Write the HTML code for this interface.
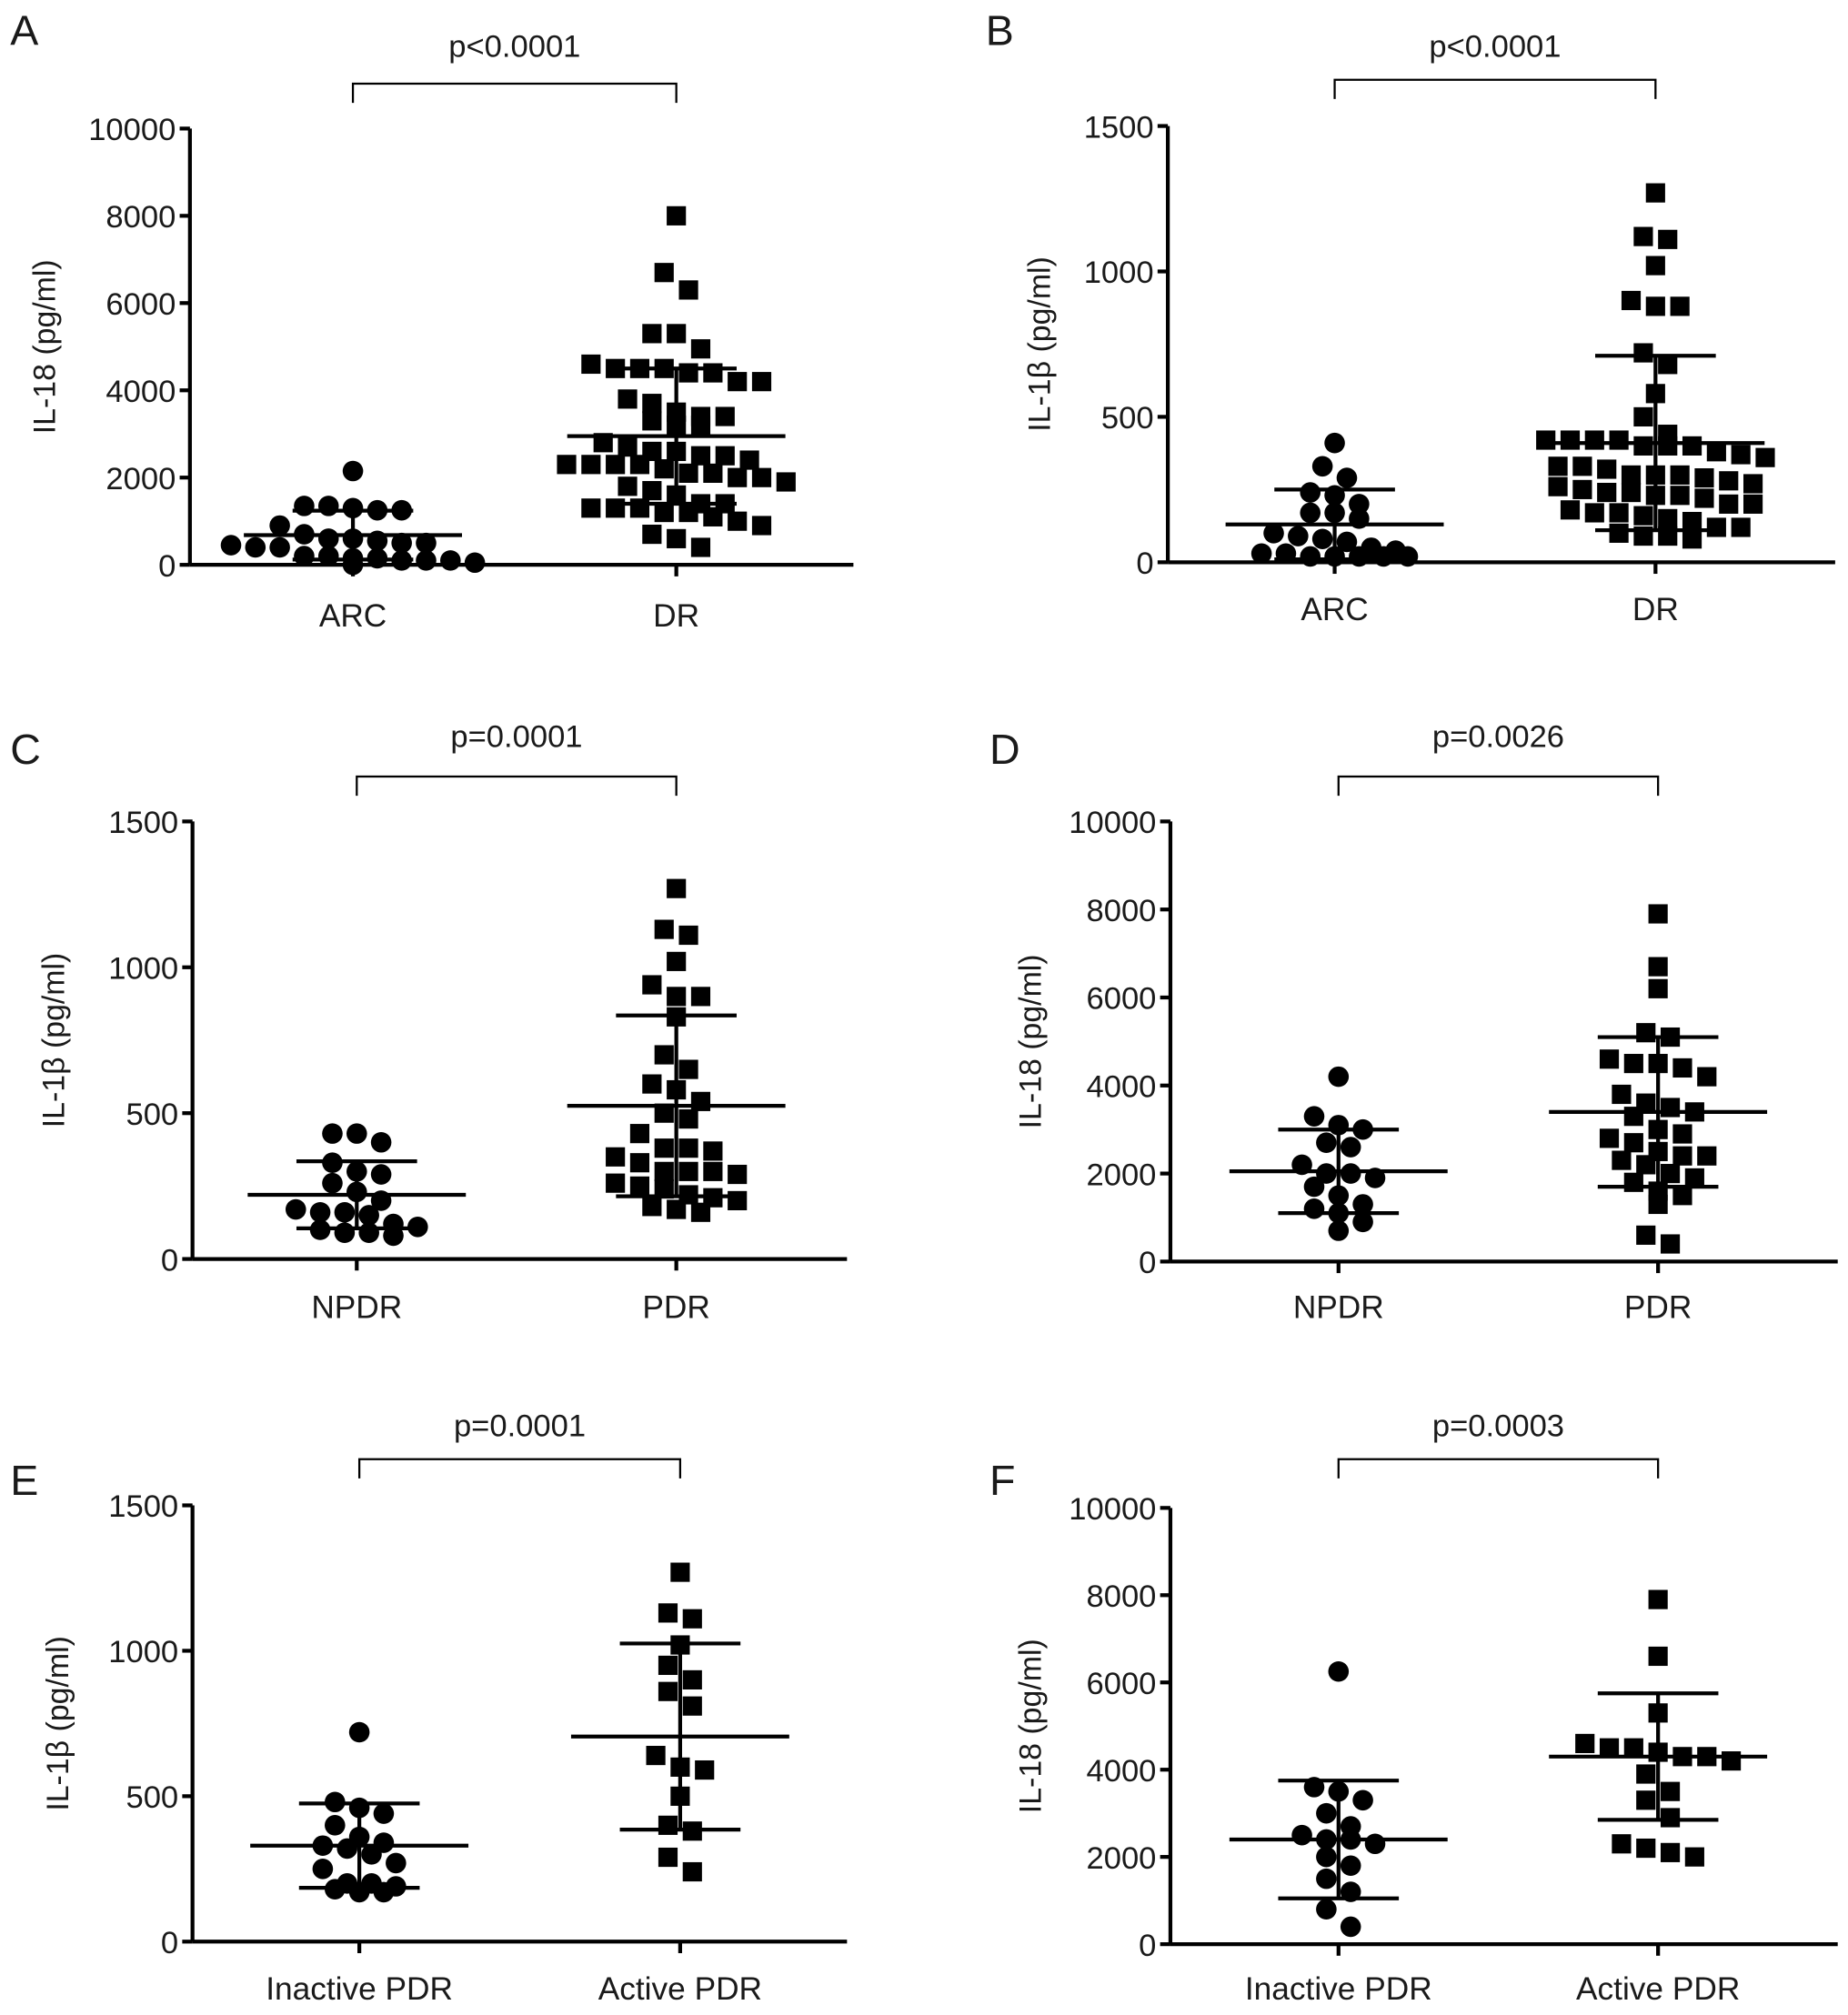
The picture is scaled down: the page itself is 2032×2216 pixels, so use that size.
<!DOCTYPE html>
<html><head><meta charset="utf-8"><style>
html,body{margin:0;padding:0;background:#fff;}
svg{display:block;font-family:"Liberation Sans",sans-serif;}
</style></head><body>
<svg id="fig" width="2032" height="2216" viewBox="0 0 1440 1570" xmlns="http://www.w3.org/2000/svg"></svg>
<script>
// ---- data ----
const aArc = [2150,1350,1300,1250,1250,1350,900,700,600,550,500,450,400,400,200,150,100,100,50,0,100,150,200,500,600];
const aDr = [8000,6700,6300,5300,5300,4950,4600,4500,4500,4500,4400,4400,4200,4200,3800,3700,3500,3400,3400,3300,3200,3200,2800,2700,2600,2600,2500,2500,2400,2300,2300,2300,2300,2200,2100,2100,2000,2000,1900,1800,1700,1600,1400,1400,1300,1300,1300,1200,1200,1100,1000,900,700,600,400];
const bArc = [410,330,290,240,230,200,170,170,150,100,90,80,70,50,40,30,30,20,20,20,20,20];
const bDr = [1270,1120,1110,1020,900,880,880,720,680,580,500,440,420,420,420,420,400,400,400,380,370,360,330,330,320,300,300,300,290,280,270,260,250,240,240,230,230,220,200,200,180,170,170,160,150,140,120,120,100,90,90,80];
const cNpdr = [430,430,400,330,300,290,260,230,200,170,160,160,150,120,110,100,90,90,80];
const cPdr = [1270,1130,1110,1020,940,900,900,830,700,650,600,580,540,500,480,430,380,380,370,350,330,300,300,300,290,260,250,240,220,210,200,180,170,160];
const dNpdr = [4200,3300,3100,3000,2700,2600,2200,2000,2000,1900,1700,1500,1300,1200,1100,900,700];
const dPdr = [7900,6700,6200,5200,5100,4600,4500,4500,4400,4200,3800,3600,3500,3400,3300,3000,2900,2800,2700,2500,2400,2400,2300,2200,2000,1900,1800,1600,1500,1300,600,400];
const eInactive = [720,480,460,440,400,360,340,330,320,300,270,250,200,200,190,180,170,170];
const eActive = [1270,1130,1110,1020,950,900,860,810,640,600,590,500,400,380,290,240];
const fInactive = [6250,3600,3500,3300,3000,2700,2500,2400,2400,2300,2000,1800,1500,1200,800,400];
const fActive = [7900,6600,5300,4600,4500,4500,4400,4300,4300,4200,3900,3500,3300,2900,2300,2200,2100,2000];
const means = {A:[680,2950],B:[130,410],C:[220,525],D:[2050,3400],E:[330,705],F:[2400,4300]};
const sds = {A:[560,1550],B:[120,300],C:[115,310],D:[950,1700],E:[145,320],F:[1350,1450]};
const pvals = {A:"p<0.0001",B:"p<0.0001",C:"p=0.0001",D:"p=0.0026",E:"p=0.0001",F:"p=0.0003"};
const ticks18 = [0,2000,4000,6000,8000,10000];
const ticks1b = [0,500,1000,1500];

const panels = [
 {id:"A",ax:148,top:100,bot:440,end:665,g:[275,527],cat:["ARC","DR"],data:[aArc,aDr],max:10000,ticks:ticks18,title:"IL-18 (pg/ml)",lx:22,ly:22,tx:35,by:65,py:35,cy:478},
 {id:"B",ax:910,top:98,bot:438,end:1430,g:[1040,1290],cat:["ARC","DR"],data:[bArc,bDr],max:1500,ticks:ticks1b,title:"IL-1β (pg/ml)",lx:782,ly:22,tx:810,by:62,py:35,cy:473},
 {id:"C",ax:150,top:640,bot:981,end:660,g:[278,527],cat:["NPDR","PDR"],data:[cNpdr,cPdr],max:1500,ticks:ticks1b,title:"IL-1β (pg/ml)",lx:22,ly:582,tx:42,by:605,py:573,cy:1017},
 {id:"D",ax:912,top:640,bot:983,end:1432,g:[1043,1292],cat:["NPDR","PDR"],data:[dNpdr,dPdr],max:10000,ticks:ticks18,title:"IL-18 (pg/ml)",lx:785,ly:582,tx:803,by:605,py:573,cy:1017},
 {id:"E",ax:150,top:1173,bot:1513,end:660,g:[280,530],cat:["Inactive PDR","Active PDR"],data:[eInactive,eActive],max:1500,ticks:ticks1b,title:"IL-1β (pg/ml)",lx:22,ly:1152,tx:45,by:1137,py:1110,cy:1548},
 {id:"F",ax:912,top:1175,bot:1515,end:1432,g:[1043,1292],cat:["Inactive PDR","Active PDR"],data:[fInactive,fActive],max:10000,ticks:ticks18,title:"IL-18 (pg/ml)",lx:785,ly:1152,tx:803,by:1137,py:1110,cy:1548}
];
const NS="http://www.w3.org/2000/svg";
const svg=document.getElementById('fig');
function mk(tag,attrs,parent){const e=document.createElementNS(NS,tag);for(const k in attrs)e.setAttribute(k,attrs[k]);(parent||svg).appendChild(e);return e;}
function line(x1,y1,x2,y2,w,parent){return mk('line',{x1,y1,x2,y2,stroke:'#000','stroke-width':w},parent);}
function txt(s,x,y,size,anchor,parent){const t=mk('text',{x,y,'font-size':size,'text-anchor':anchor||'middle',fill:'#1a1a1a'},parent);t.textContent=s;return t;}

panels.forEach(p=>{
  const g=mk('g',{});
  
  
  const yS=v=>p.bot-(v/p.max)*(p.bot-p.top);
  const lab=txt(p.id,p.lx-14,p.ly+13,33,'start',g);
  
  
  const ya=line(p.ax,p.top,p.ax,p.bot,3,g);
  
  
  const xa=line(p.ax,p.bot,p.end,p.bot,3,g);
  
  
  p.ticks.forEach(t=>{
    const y=yS(t);
    line(p.ax-8,y,p.ax,y,3,g);
    const tl=txt(String(t),p.ax-11,y+9,24.5,'end',g);
    
    
  });
  p.g.forEach((gx,i)=>{
    line(gx,p.bot,gx,p.bot+9,3,g);
    const cl=txt(p.cat[i],gx,p.cy+10,25,'middle',g);
    
    
  });
  const yt=txt(p.title,0,0,24,'middle',g);
  yt.setAttribute('transform','translate('+(p.tx+8)+','+((p.top+p.bot)/2)+') rotate(-90)');
  
  
  const br=mk('path',{d:`M${p.g[0]},${p.by+15} V${p.by} H${p.g[1]} V${p.by+15}`,fill:'none',stroke:'#000','stroke-width':1.6},g);
  
  
  const pt=txt(pvals[p.id],(p.g[0]+p.g[1])/2,p.py+9,24.5,'middle',g);
  
  
  p.data.forEach((arr,gi)=>{
    const sorted=arr.slice().sort((a,b)=>b-a);
    const groups=[];
    sorted.forEach(v=>{
      const y=yS(v);
      const last=groups[groups.length-1];
      if(last&&Math.abs(last.y0-y)<15)last.items.push(y);else groups.push({y0:y,items:[y]});
    });
    groups.forEach(gr=>{
      const n=gr.items.length;
      gr.items.forEach((y,k)=>{
        const x=p.g[gi]+(k-(n-1)/2)*19;
        let m;
        if(gi===0){m=mk('circle',{cx:x,cy:y,r:8,fill:'#000'},g);}
        else{m=mk('rect',{x:x-7.5,y:y-7.5,width:15,height:15,fill:'#000'},g);}
        
        
      });
    });
    const mu=means[p.id][gi],sd=sds[p.id][gi];
    const ml=line(p.g[gi]-85,yS(mu),p.g[gi]+85,yS(mu),3,g);
    
    
    const lo=Math.max(0,mu-sd),hi=mu+sd;
    const el=line(p.g[gi],yS(hi),p.g[gi],yS(lo),3,g);
    
    
    line(p.g[gi]-47,yS(hi),p.g[gi]+47,yS(hi),3,g);
    line(p.g[gi]-47,yS(lo),p.g[gi]+47,yS(lo),3,g);
  });
});
</script>
</body></html>
